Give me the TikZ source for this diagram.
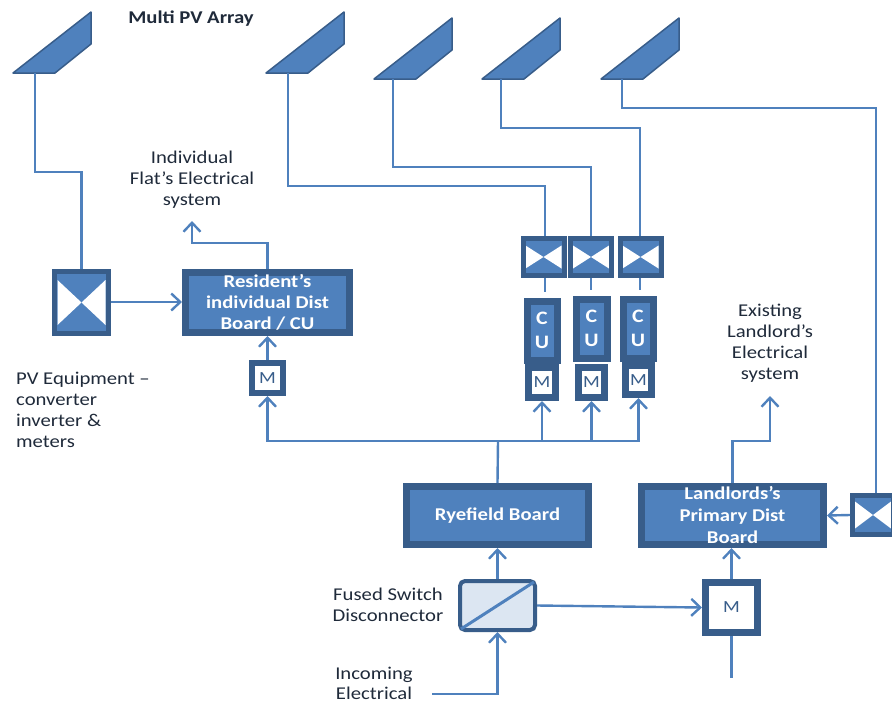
\documentclass[tikz,border=0pt]{standalone}
\usepackage{fontspec}
\setmainfont{Carlito}[FakeStretch=1.15]
\usetikzlibrary{arrows.meta}
\definecolor{mid}{HTML}{4F81BD}
\definecolor{dark}{HTML}{385D8A}
\definecolor{pale}{HTML}{DCE6F2}
\definecolor{ink}{HTML}{1F2A3A}
\tikzset{
  boardbox/.style={draw=dark,fill=mid,line width=7pt,inner sep=0pt,align=center,text=white,font=\fontsize{18}{21}\selectfont\bfseries},
  meterbox/.style={draw=dark,fill=white,inner sep=0pt,text=dark,font=\fontsize{17}{18}\selectfont},
  xh/.initial=30pt,
  xw/.initial=17pt,
  xbox/.style={draw=dark,fill=mid,inner sep=0pt,path picture={
    \fill[white] (path picture bounding box.center) -- ++(-\pgfkeysvalueof{/tikz/xw},0.5*\pgfkeysvalueof{/tikz/xh}) -- ++(0,-\pgfkeysvalueof{/tikz/xh}) -- cycle;
    \fill[white] (path picture bounding box.center) -- ++(\pgfkeysvalueof{/tikz/xw},0.5*\pgfkeysvalueof{/tikz/xh}) -- ++(0,-\pgfkeysvalueof{/tikz/xh}) -- cycle;
  }},
  wire/.style={draw=mid,line width=2.4pt},
  arr/.style={wire,-{Straight Barb[length=9pt,width=17pt,line width=2.4pt]}},
  caption/.style={inner sep=0pt,text=ink,font=\fontsize{18}{21}\selectfont,align=center},
  panelface/.style={fill=mid,draw=dark,line width=1.5pt,line join=round}
}
\newcommand{\pvpanel}[4]{%
  \draw[panelface] (#2,#3) -- ++(42,0) -- ++(36,-29) -- ++(0,-32) -- cycle;
  \coordinate (#1) at (#2+#4,#3);
}
\begin{document}
\begin{tikzpicture}[x=1pt,y=-1pt]
\useasboundingbox (0,0) rectangle (892,702);
% panels
\pvpanel{pa}{13}{73}{22}
\pvpanel{pb}{266}{73}{22}
\pvpanel{pc}{374}{79}{19}
\pvpanel{pd}{482}{79}{19}
\pvpanel{pe}{601}{79}{21}
% boards
\node[boardbox,minimum width=164pt,minimum height=60pt] (res) at (267.5,302.5) {Resident's\\individual Dist\\Board / CU};
\node[boardbox,minimum width=182pt,minimum height=58pt] (rye) at (497.5,515.5) {Ryefield Board};
\node[boardbox,minimum width=182pt,minimum height=58pt,font=\fontsize{18}{22}\selectfont\bfseries] (land) at (732.5,515.5) {Landlords's\\Primary Dist\\Board};
% switch boxes
\node[xbox,line width=5pt,minimum width=54pt,minimum height=62pt,xh=45pt,xw=24pt] (xa) at (81.5,302.5) {};
\node[xbox,line width=5pt,minimum width=41pt,minimum height=37pt,xh=23pt,xw=18pt] (xb) at (543.5,257) {};
\node[xbox,line width=5pt,minimum width=41pt,minimum height=37pt,xh=23pt,xw=18pt] (xc) at (591,257) {};
\node[xbox,line width=5pt,minimum width=41pt,minimum height=37pt,xh=23pt,xw=18pt] (xd) at (640.5,257) {};
\node[xbox,line width=5pt,minimum width=41pt,minimum height=39pt,xh=27pt,xw=18pt] (xe) at (873,515) {};
% consumer units
\node[boardbox,minimum width=30pt,minimum height=59pt,font=\fontsize{19}{24}\selectfont\bfseries] (cua) at (542,330.5) {C\\U};
\node[boardbox,minimum width=31pt,minimum height=59pt,font=\fontsize{19}{24}\selectfont\bfseries] (cub) at (591.5,328.5) {C\\U};
\node[boardbox,minimum width=30pt,minimum height=59pt,font=\fontsize{19}{24}\selectfont\bfseries] (cuc) at (638,328.5) {C\\U};
% meters
\node[meterbox,line width=6pt,minimum width=31pt,minimum height=30pt] (ma) at (267.5,378) {M};
\node[meterbox,line width=7pt,minimum width=27pt,minimum height=30pt] (mb) at (542,382.5) {M};
\node[meterbox,line width=7pt,minimum width=26pt,minimum height=30pt] (mc) at (591.5,382.5) {M};
\node[meterbox,line width=7pt,minimum width=26pt,minimum height=29pt] (md) at (638.5,380) {M};
\node[meterbox,line width=7pt,minimum width=52pt,minimum height=50pt] (me) at (731.5,607.5) {M};
% disconnector
\node[draw=dark,fill=pale,line width=4pt,rounded corners=5pt,minimum width=75pt,minimum height=49pt,inner sep=0pt] (fs) at (497.5,605.5) {};
\draw[draw=mid,line width=3pt] ([shift={(3pt,3pt)}]fs.south west) -- ([shift={(-3pt,-3pt)}]fs.north east);
% free ends and corners
\coordinate (inc) at (432,694);
\coordinate (meout) at (731.5,678);
\coordinate (flat) at (192,221);
\coordinate (exist) at (770,396);
\coordinate (busin) at (498,441);
\coordinate (wb) at (545,0);
\coordinate (wc) at (591,0);
\coordinate (wd) at (640,0);
\coordinate (we) at (876,0);
% wires from panels
\draw[wire] (pa) |- (81.5,172) -- (xa.north);
\draw[wire] (pb) |- (wb |- 0,186) -- (wb |- xb.north);
\draw[wire] (pc) |- (wc |- 0,167) -- (wc |- xc.north);
\draw[wire] (pd) |- (wd |- 0,128) -- (wd |- xd.north);
\draw[wire] (pe) |- (we |- 0,108) -- (we |- xe.north);
\draw[wire] (wb |- xb.south) -- ([yshift=6pt]wb |- cua.north);
\draw[wire] (wc |- xc.south) -- ([yshift=6pt]wc |- cub.north);
\draw[wire] (wd |- xd.south) -- ([yshift=6pt]wd |- cuc.north);
% arrows
\draw[arr] (xa.east |- 0,302) -- (res.west |- 0,302);
\draw[arr] (res.north) |- (192,243) -- (flat);
\draw[arr] (ma.north) -- (res.south);
\draw[wire] (rye.north) -- (busin);
\draw[arr] (busin) -| (ma.south);
\draw[arr] (busin) -| (mb.south);
\draw[arr] (busin) -| (mc.south);
\draw[arr] (busin) -| (md.south);
\draw[arr] (fs.north) -- (rye.south);
\draw[arr] (inc) -| (fs.south);
\draw[arr] (fs.east) -- (me.west);
\draw[arr] (me.north) -- (me.north |- land.south);
\draw[wire] (me.south) -- (meout);
\draw[arr] (land.north) |- (770,441) -- (exist);
\draw[arr] (xe.west) -- (land.east);
% captions
\node[caption,font=\fontsize{18}{21}\selectfont\bfseries] (t1) at (191,19) {Multi PV Array};
\node[caption] (t2) at (192,180) {Individual\\Flat's Electrical\\system};
\node[caption] (t3) at (770,343) {Existing\\Landlord's\\Electrical\\system};
\node[caption,align=left,anchor=north west] (t4) at (16,372) {PV Equipment --\\converter\\inverter \&\\meters};
\node[caption] (t5) at (388,605) {Fused Switch\\Disconnector};
\node[caption,font=\fontsize{18}{20}\selectfont] (t6) at (374,683) {Incoming\\Electrical};
\end{tikzpicture}
\end{document}
